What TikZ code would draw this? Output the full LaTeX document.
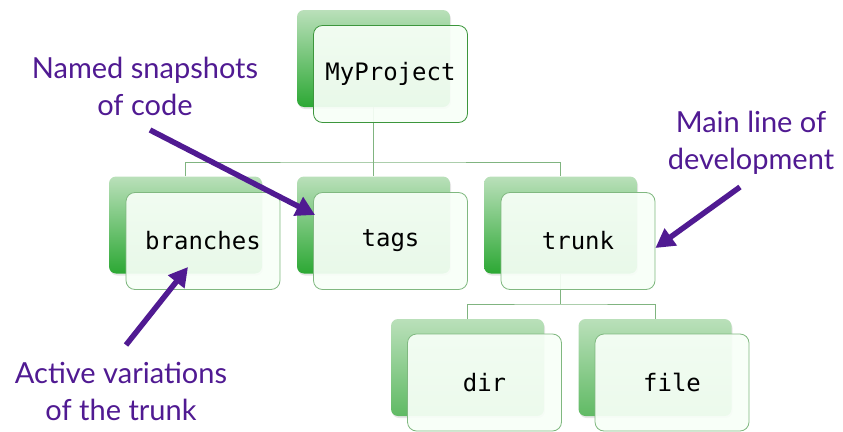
\documentclass[tikz,border=0pt]{standalone}
\usepackage{fontspec}
\setmainfont{Lato}
\setmonofont{DejaVu Sans Mono}
\usetikzlibrary{arrows.meta,calc,shadows}
\definecolor{calloutpurple}{RGB}{80,26,146}
\definecolor{boxtop}{RGB}{186,224,186}
\definecolor{boxbottom}{RGB}{44,168,52}
\definecolor{leafbottom}{RGB}{96,186,100}
\definecolor{boxline}{RGB}{128,184,128}
\definecolor{rootline}{RGB}{60,150,60}
\definecolor{treegreen}{RGB}{128,180,128}

\begin{document}
\begin{tikzpicture}[x=1pt,y=-1pt,
    backbox/.style={rounded corners=7pt, minimum width=153pt, minimum height=97pt,
        top color=boxtop, bottom color=boxbottom, draw=none,
        drop shadow={opacity=0.2,shadow xshift=1pt,shadow yshift=-2pt}},
    leafback/.style={backbox, bottom color=leafbottom},
    frontbox/.style={rounded corners=9pt, minimum width=154pt, minimum height=97pt,
        draw=boxline, line width=0.8pt, fill=green!3!white, fill opacity=0.93, text opacity=1,
        font=\ttfamily\fontsize{24}{28}\selectfont},
    treeline/.style={draw=treegreen, line width=0.8pt},
    callout/.style={calloutpurple, line width=5.5pt, -{Triangle[length=19pt,width=20pt]}},
    calloutlbl/.style={calloutpurple, align=center, font=\fontsize{29}{37}\selectfont}]
    \useasboundingbox (0,0) rectangle (843,431);

    \node [backbox] (projectBack) at (373.5,58.5) {};
    \node [backbox] (branchesBack) at (185.5,225) {};
    \node [backbox] (tagsBack) at (373.5,225) {};
    \node [backbox] (trunkBack) at (560.5,225) {};
    \node [leafback] (dirBack) at (467.5,367.5) {};
    \node [leafback] (fileBack) at (655,367.5) {};

    \coordinate (topBus) at (projectBack |- 0,162);
    \coordinate (lowBus) at (trunkBack |- 0,304);
    \draw [treeline] (projectBack.south) -- (topBus);
    \draw [treeline] (branchesBack.north) |- (topBus) -| (trunkBack.north);
    \draw [treeline] (topBus) -- (tagsBack.north);
    \draw [treeline] (trunkBack.south) -- (lowBus);
    \draw [treeline] (dirBack.north) |- (lowBus) -| (fileBack.north);

    \node [frontbox, draw=rootline] (project) at ($(projectBack)+(17,15.5)$) {MyProject};
    \node [frontbox] (branches) at ($(branchesBack)+(17.5,16)$) {branches};
    \node [frontbox] (tags) at ($(tagsBack)+(17,16)$) {tags};
    \node [frontbox] (trunk) at ($(trunkBack)+(17.5,16)$) {trunk};
    \node [frontbox] (dir) at ($(dirBack)+(17,15)$) {dir};
    \node [frontbox] (file) at ($(fileBack)+(17,15)$) {file};

    \node [calloutlbl] (snapLbl) at (145,86) {Named snapshots\\of code};
    \node [calloutlbl] (devLbl) at (751,143) {Main line of\\development};
    \node [calloutlbl] (activeLbl) at (121,391) {Active variations\\of the trunk};

    \coordinate (snapFrom) at (150,130);
    \coordinate (devFrom) at (740,187);
    \coordinate (activeFrom) at (126,345);
    \draw [callout] (snapFrom) -- ($(tags.west)+(2,-26)$);
    \draw [callout] (devFrom) -- ($(trunk.east)+(0,7)$);
    \draw [callout] (activeFrom) -- ($(branches.center)+(-15,26)$);
\end{tikzpicture}
\end{document}
